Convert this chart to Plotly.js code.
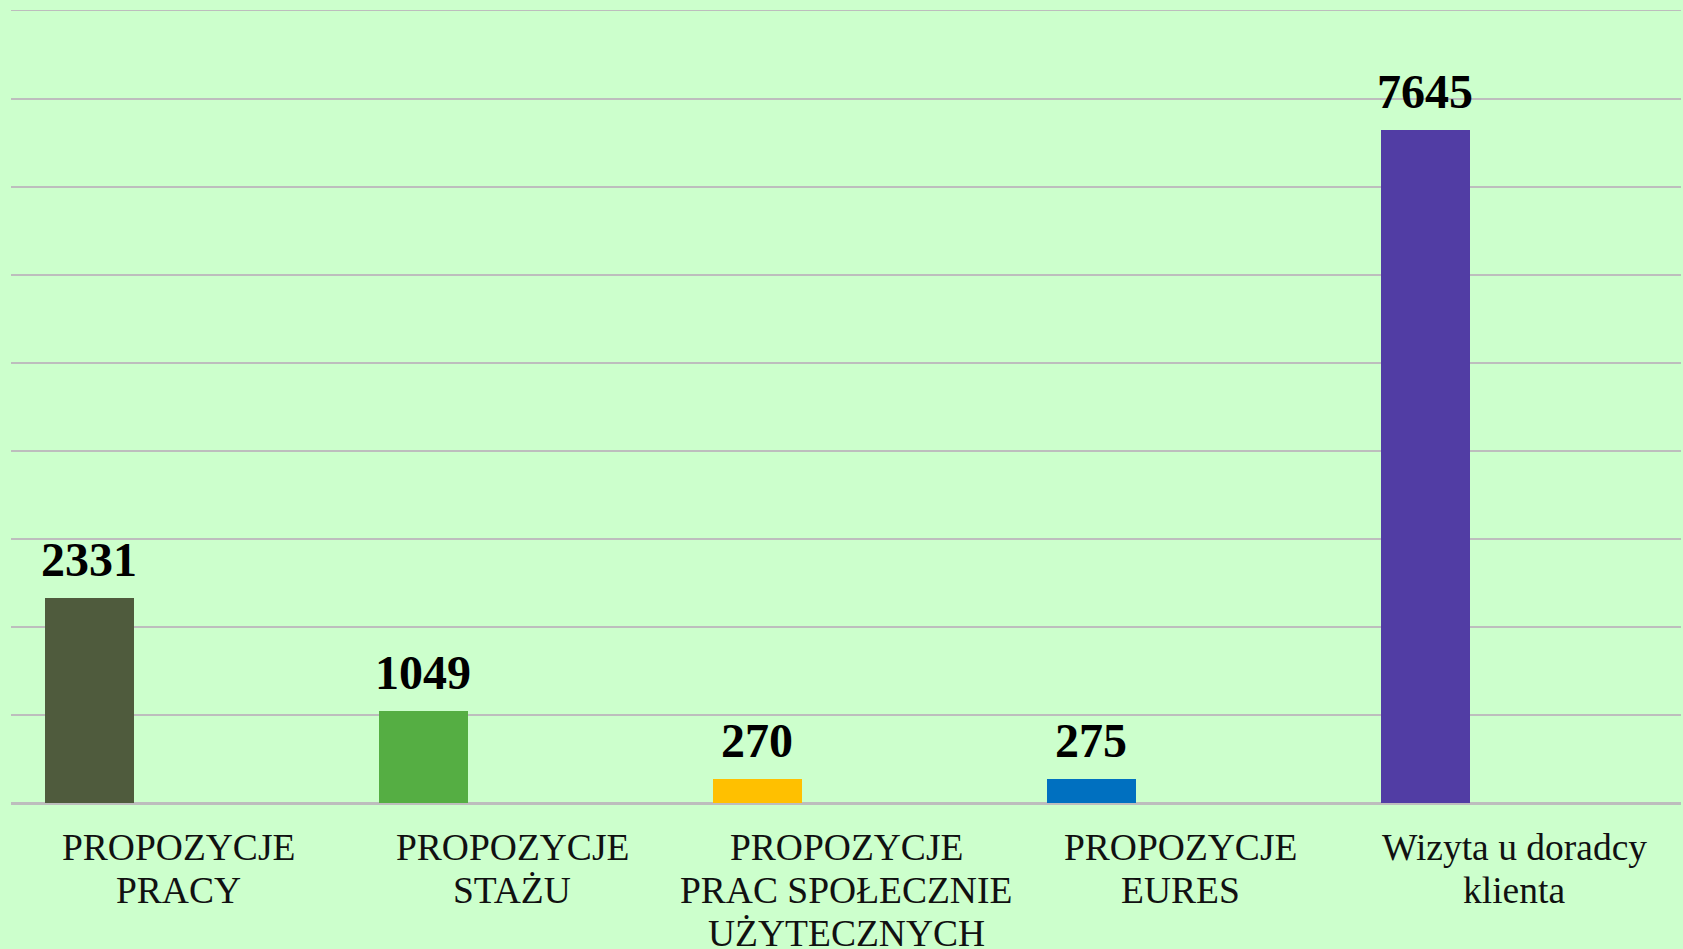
<!DOCTYPE html>
<html>
<head>
<meta charset="utf-8">
<script src="https://cdn.plot.ly/plotly-3.0.1.min.js"></script>
<style>
html,body{margin:0;padding:0;background:#CCFFCC;}
#chart{width:1683px;height:949px;}
</style>
</head>
<body>
<div id="chart"></div>
<script>
// Data
const categories = [
  "PROPOZYCJE<br>PRACY",
  "PROPOZYCJE<br>STAŻU",
  "PROPOZYCJE<br>PRAC SPOŁECZNIE<br>UŻYTECZNYCH",
  "PROPOZYCJE<br>EURES",
  "Wizyta u doradcy<br>klienta"
];
const values = [2331, 1049, 270, 275, 7645];
const barColors = ["#4F5B3D", "#55AE43", "#FFC000", "#0070C0", "#513DA4"];

const barWidth = 0.268;
const barOffset = -0.399;
const catPx = 334;
const serif = "Liberation Serif, Times New Roman, serif";

const trace = {
  type: "bar",
  x: categories,
  y: values,
  width: values.map(() => barWidth),
  offset: values.map(() => barOffset),
  marker: { color: barColors, line: { width: 0 } },
  hoverinfo: "x+y",
  showlegend: false
};

const labelShift = (barOffset + barWidth / 2) * catPx;
const annotations = values.map((v, i) => ({
  x: categories[i],
  y: v,
  xref: "x",
  yref: "y",
  text: String(v),
  showarrow: false,
  xanchor: "center",
  yanchor: "bottom",
  xshift: labelShift,
  yshift: 10,
  font: { family: serif, size: 48, color: "#000000", weight: "bold" }
}));

// Category labels, one annotation per text line (tighter line spacing than tick labels)
const firstLine = 44, lineStep = 43;
categories.forEach((c) => {
  c.split("<br>").forEach((line, j) => {
    annotations.push({
      x: c,
      y: 0,
      xref: "x",
      yref: "y",
      text: line,
      showarrow: false,
      xanchor: "center",
      yanchor: "middle",
      yshift: -(firstLine + j * lineStep),
      font: { family: serif, size: 37.5, color: "#111111" }
    });
  });
});

const layout = {
  width: 1683,
  height: 949,
  paper_bgcolor: "#CCFFCC",
  plot_bgcolor: "#CCFFCC",
  margin: { l: 11, r: 2, t: 11, b: 146, pad: 0 },
  showlegend: false,
  bargap: 0,
  xaxis: {
    type: "category",
    range: [-0.5, 4.5],
    showgrid: false,
    zeroline: false,
    showline: true,
    mirror: true,
    linecolor: "#BDBDBD",
    linewidth: 1.5,
    ticks: "",
    showticklabels: false,
    fixedrange: true
  },
  yaxis: {
    range: [0, 9000],
    tick0: 0,
    dtick: 1000,
    showgrid: true,
    gridcolor: "#BDBDBD",
    gridwidth: 1.5,
    zeroline: true,
    zerolinecolor: "#BDBDBD",
    zerolinewidth: 1.5,
    showticklabels: false,
    ticks: "",
    showline: false,
    fixedrange: true
  },
  annotations: annotations
};

Plotly.newPlot("chart", [trace], layout, { displayModeBar: false, staticPlot: true });
</script>
</body>
</html>
